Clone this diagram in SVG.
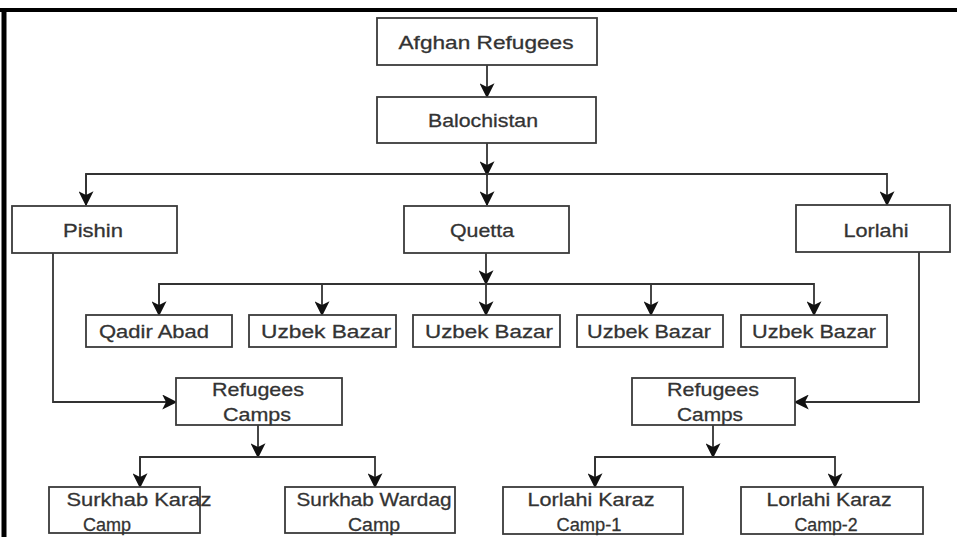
<svg xmlns="http://www.w3.org/2000/svg" width="957" height="537" viewBox="0 0 957 537">
<style>
.box{fill:#fff;stroke:#3a3a3a;stroke-width:1.8}
.t{font-family:"Liberation Sans",Arial,sans-serif;font-size:19px;fill:#333;text-anchor:middle;stroke:#333;stroke-width:0.3}
.c{fill:none;stroke:#333;stroke-width:1.8}
.frame{stroke:#000;fill:none}
</style>
<defs>
<marker id="ah" markerUnits="userSpaceOnUse" markerWidth="15" markerHeight="15" viewBox="0 0 12 12" refX="11" refY="6" orient="auto">
<path d="M0,0 L12,6 L0,12 L3,6 z" fill="#111"/>
</marker>
</defs>
<rect width="957" height="537" fill="#fff"/>
<g id="frame">
<line class="frame" x1="0" y1="10" x2="957" y2="10" stroke-width="4"/>
<line class="frame" x1="4" y1="8" x2="4" y2="537" stroke-width="5"/>
</g>
<g id="connectors">
<line class="c" x1="487" y1="65" x2="487" y2="97" marker-end="url(#ah)"/>
<line class="c" x1="487" y1="143" x2="487" y2="175" marker-end="url(#ah)"/>
<line class="c" x1="487" y1="174" x2="487" y2="205" marker-end="url(#ah)"/>
<polyline class="c" points="86,205 86,174 887,174 887,205" marker-end="url(#ah)"/>
<line class="c" x1="86" y1="174" x2="86" y2="205" marker-end="url(#ah)"/>
<line class="c" x1="486" y1="253" x2="486" y2="284" marker-end="url(#ah)"/>
<line class="c" x1="486" y1="284" x2="486" y2="315" marker-end="url(#ah)"/>
<polyline class="c" points="159,315 159,284 814,284 814,315" marker-end="url(#ah)"/>
<line class="c" x1="159" y1="284" x2="159" y2="315" marker-end="url(#ah)"/>
<line class="c" x1="322" y1="284" x2="322" y2="315" marker-end="url(#ah)"/>
<line class="c" x1="651" y1="284" x2="651" y2="315" marker-end="url(#ah)"/>
<polyline class="c" points="53,253 53,402 176,402" marker-end="url(#ah)"/>
<line class="c" x1="258" y1="425" x2="258" y2="457" marker-end="url(#ah)"/>
<polyline class="c" points="140,487 140,457 375,457 375,487" marker-end="url(#ah)"/>
<line class="c" x1="140" y1="457" x2="140" y2="487" marker-end="url(#ah)"/>
<polyline class="c" points="919,252 919,402 795,402" marker-end="url(#ah)"/>
<line class="c" x1="713" y1="425" x2="713" y2="457" marker-end="url(#ah)"/>
<polyline class="c" points="595,487 595,457 835,457 835,487" marker-end="url(#ah)"/>
<line class="c" x1="595" y1="457" x2="595" y2="487" marker-end="url(#ah)"/>
</g>
<g id="afghan-refugees"><rect class="box" x="377" y="18" width="220" height="47"/><text class="t" x="486" y="49" textLength="175" lengthAdjust="spacingAndGlyphs">Afghan Refugees</text></g>
<g id="balochistan"><rect class="box" x="377" y="97" width="219" height="46"/><text class="t" x="483" y="127" textLength="110" lengthAdjust="spacingAndGlyphs">Balochistan</text></g>
<g id="pishin"><rect class="box" x="12" y="206" width="165" height="47"/><text class="t" x="93" y="237" textLength="60" lengthAdjust="spacingAndGlyphs">Pishin</text></g>
<g id="quetta"><rect class="box" x="404" y="206" width="165" height="47"/><text class="t" x="482" y="237" textLength="64" lengthAdjust="spacingAndGlyphs">Quetta</text></g>
<g id="lorlahi"><rect class="box" x="796" y="205" width="154" height="47"/><text class="t" x="876" y="237" textLength="65" lengthAdjust="spacingAndGlyphs">Lorlahi</text></g>
<g id="qadir-abad"><rect class="box" x="86" y="315" width="146" height="32"/><text class="t" x="154" y="338" textLength="110" lengthAdjust="spacingAndGlyphs">Qadir Abad</text></g>
<g id="uzbek-bazar-1"><rect class="box" x="249" y="315" width="147" height="32"/><text class="t" x="326" y="338" textLength="130" lengthAdjust="spacingAndGlyphs">Uzbek Bazar</text></g>
<g id="uzbek-bazar-2"><rect class="box" x="413" y="315" width="147" height="32"/><text class="t" x="489" y="338" textLength="128" lengthAdjust="spacingAndGlyphs">Uzbek Bazar</text></g>
<g id="uzbek-bazar-3"><rect class="box" x="577" y="315" width="146" height="32"/><text class="t" x="649" y="338" textLength="124" lengthAdjust="spacingAndGlyphs">Uzbek Bazar</text></g>
<g id="uzbek-bazar-4"><rect class="box" x="741" y="315" width="146" height="32"/><text class="t" x="814" y="338" textLength="124" lengthAdjust="spacingAndGlyphs">Uzbek Bazar</text></g>
<g id="refugees-camps-left"><rect class="box" x="176" y="378" width="166" height="47"/><text class="t" x="258" y="396" textLength="92" lengthAdjust="spacingAndGlyphs">Refugees</text><text class="t" x="257" y="421" textLength="68" lengthAdjust="spacingAndGlyphs">Camps</text></g>
<g id="refugees-camps-right"><rect class="box" x="632" y="378" width="163" height="47"/><text class="t" x="713" y="396" textLength="92" lengthAdjust="spacingAndGlyphs">Refugees</text><text class="t" x="710" y="421" textLength="66" lengthAdjust="spacingAndGlyphs">Camps</text></g>
<g id="surkhab-karaz"><rect class="box" x="49" y="487" width="151" height="46"/><text class="t" x="139" y="506" textLength="145" lengthAdjust="spacingAndGlyphs">Surkhab Karaz</text><text class="t" x="107" y="531" textLength="48" lengthAdjust="spacingAndGlyphs">Camp</text></g>
<g id="surkhab-wardag"><rect class="box" x="285" y="487" width="170" height="46"/><text class="t" x="374" y="506" textLength="155" lengthAdjust="spacingAndGlyphs">Surkhab Wardag</text><text class="t" x="374" y="531" textLength="52" lengthAdjust="spacingAndGlyphs">Camp</text></g>
<g id="lorlahi-karaz-1"><rect class="box" x="503" y="487" width="180" height="47"/><text class="t" x="591" y="506" textLength="127" lengthAdjust="spacingAndGlyphs">Lorlahi Karaz</text><text class="t" x="589" y="531" textLength="65" lengthAdjust="spacingAndGlyphs">Camp-1</text></g>
<g id="lorlahi-karaz-2"><rect class="box" x="741" y="487" width="182" height="47"/><text class="t" x="829" y="506" textLength="125" lengthAdjust="spacingAndGlyphs">Lorlahi Karaz</text><text class="t" x="826" y="531" textLength="63" lengthAdjust="spacingAndGlyphs">Camp-2</text></g>
</svg>
